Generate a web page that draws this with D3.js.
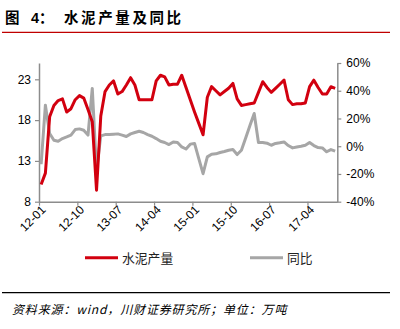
<!DOCTYPE html>
<html><head><meta charset="utf-8">
<script src="https://cdn.jsdelivr.net/npm/d3@7/dist/d3.min.js"></script>
<style>
html,body{margin:0;padding:0;background:#fff;}
svg{display:block;}
</style></head>
<body>
<svg id="chart" width="400" height="329"></svg>
<script>
// ---- data ----
const categories = [];
for (let y = 12; y <= 17; y++) for (let m = 1; m <= 12; m++) {
  if (y === 17 && m > 10) break;
  categories.push(y + "-" + String(m).padStart(2, "0"));
}
const output = [10.1,11.5,18.4,19.8,20.4,20.6,19.0,19.4,20.5,21.0,20.7,19.3,17.8,9.4,18.5,21.5,22.3,22.8,21.2,21.5,
  22.3,23.2,22.3,20.5,20.5,20.5,20.5,22.8,23.5,23.3,22.3,22.4,22.4,23.5,22.0,20.5,19.0,17.6,16.2,20.8,
  22.1,21.6,21.1,21.5,21.9,22.5,20.6,19.8,19.9,20.0,20.1,21.4,22.7,22.0,21.4,21.9,22.4,22.9,20.5,19.9,
  20.0,20.0,20.1,22.1,22.9,22.0,21.2,21.2,22.1,21.9];
const yoy = [-13,29.6,9.2,4.3,3.6,5.5,6.7,8.0,12.0,12.5,11.5,8.0,41.7,-17.3,7.5,8.4,8.4,8.7,8.9,8.0,
  7.0,8.9,9.9,10.8,9.9,8.4,7.2,5.5,3.6,2.7,1.2,3.1,2.7,-0.5,-2.0,1.5,2.0,-9.0,-19.8,-7.7,
  -5.8,-5.5,-4.5,-3.8,-2.9,-2.4,-6.0,-2.9,6.0,15.0,23.6,2.7,2.7,2.2,0.7,2.0,2.5,3.1,0.5,-1.2,
  -0.5,0.0,0.7,2.7,0.5,-1.0,-1.2,-4.0,-2.4,-3.6];
const leftTicks = [8, 13, 18, 23];
const rightTicks = [-40, -20, 0, 20, 40, 60];
const xTickIdx = [0, 9, 18, 27, 36, 45, 54, 63];
const seriesNames = ["水泥产量", "同比"];
const colors = ["#d2000f", "#a6a6a6"];

// ---- layout ----
const svg = d3.select("#chart");
const L = 39, R = 337.3, T = 63, B = 201.7;
const N = categories.length;
const x = d3.scaleLinear().domain([0, N]).range([L, R]);
const yL = d3.scaleLinear().domain([8, 25]).range([B, T]);
const yR = d3.scaleLinear().domain([-40, 60]).range([B, T]);
const axisColor = "#8c8c8c";
const numFont = "'Liberation Sans', Arial, sans-serif";
const cjk = "'Noto Sans CJK SC', sans-serif";

// title
const title = svg.append("text").attr("x", 5).attr("y", 23)
  .attr("font-family", cjk).attr("font-weight", "bold").attr("font-size", 14.5).attr("fill", "#000");
title.append("tspan").text("图").attr("letter-spacing", 0);
title.append("tspan").attr("x", 31).text("4：").attr("font-family", numFont + "," + cjk);
title.append("tspan").attr("x", 64).text("水泥产量及同比").attr("letter-spacing", 2.6);

svg.append("line").attr("x1", 2).attr("x2", 390).attr("y1", 32.3).attr("y2", 32.3)
  .attr("stroke", "#c00000").attr("stroke-width", 1.3);

// left axis
const gL = svg.append("g").attr("transform", `translate(${L},0)`)
  .call(d3.axisLeft(yL).tickValues(leftTicks).tickSize(4).tickPadding(4).tickSizeOuter(0));
// right axis
const gR = svg.append("g").attr("transform", `translate(${R},0)`)
  .call(d3.axisRight(yR).tickValues(rightTicks).tickSize(4).tickPadding(5).tickSizeOuter(0)
    .tickFormat(d => d + "%"));
// bottom axis
const gB = svg.append("g").attr("transform", `translate(0,${B})`)
  .call(d3.axisBottom(x).tickValues(xTickIdx).tickSize(4).tickSizeOuter(0)
    .tickFormat(i => categories[i]));
gB.selectAll("text").attr("text-anchor", "end")
  .attr("transform", "rotate(-45)").attr("dx", "-0.1em").attr("dy", "0.35em").attr("y", 7).attr("x", 0);

[gL, gR, gB].forEach(g => {
  g.selectAll(".domain").attr("stroke", axisColor).attr("stroke-width", 1.5);
  g.selectAll(".tick line").attr("stroke", axisColor).attr("stroke-width", 1.2);
  g.selectAll("text").attr("font-family", numFont).attr("font-size", 12).attr("fill", "#000");
});

// lines
const lineL = d3.line().x((d, i) => x(i + 0.5)).y(d => yL(d)).curve(d3.curveLinear);
const lineR = d3.line().x((d, i) => x(i + 0.5)).y(d => yR(d)).curve(d3.curveLinear);
svg.append("path").datum(yoy).attr("d", lineR).attr("fill", "none")
  .attr("stroke", colors[1]).attr("stroke-width", 3).attr("stroke-linejoin", "round");
svg.append("path").datum(output).attr("d", lineL).attr("fill", "none")
  .attr("stroke", colors[0]).attr("stroke-width", 3).attr("stroke-linejoin", "round");

// legend
const legendX = [85, 250];
seriesNames.forEach((name, k) => {
  svg.append("line").attr("x1", legendX[k]).attr("x2", legendX[k] + 33)
    .attr("y1", 257.7).attr("y2", 257.7).attr("stroke", colors[k]).attr("stroke-width", 3);
  svg.append("text").attr("x", legendX[k] + 37).attr("y", 262.5)
    .attr("font-family", cjk).attr("font-size", 12.8).attr("fill", "#222").text(name);
});

// bottom rule and source
svg.append("line").attr("x1", 2).attr("x2", 390).attr("y1", 292.7).attr("y2", 292.7)
  .attr("stroke", "#000").attr("stroke-width", 1.3);
svg.append("text").attr("x", 12).attr("y", 313.5)
  .attr("font-family", cjk).attr("font-style", "italic").attr("font-size", 12)
  .attr("letter-spacing", 0.85).attr("fill", "#000")
  .text("资料来源：wind，川财证券研究所；单位：万吨");
</script>
</body></html>
